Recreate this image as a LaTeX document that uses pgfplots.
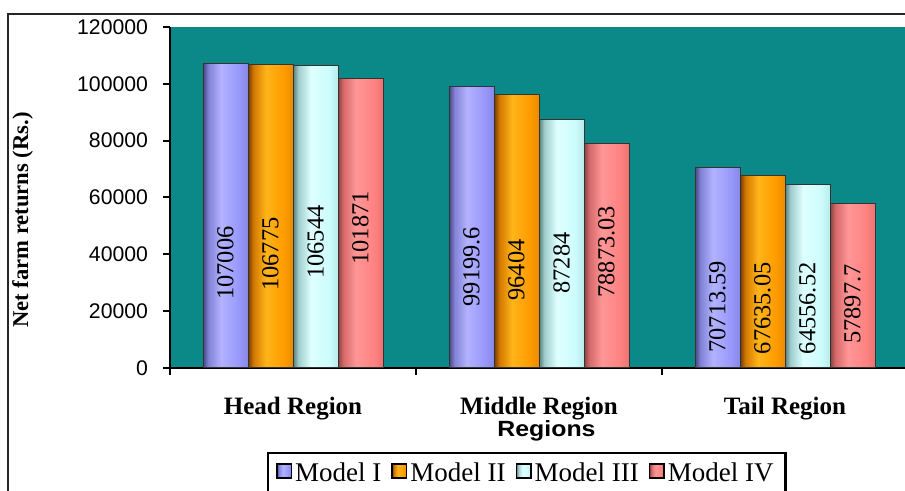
\documentclass[border=0pt]{standalone}
\usepackage{pgfplots}
\pgfplotsset{compat=1.18}
\usepackage{fontspec}
\setmainfont{Liberation Serif}
\newfontfamily\arialf{Liberation Sans}

\definecolor{bg}{RGB}{11,137,137}
\definecolor{cA}{RGB}{153,153,255}
\definecolor{cB}{RGB}{255,153,0}
\definecolor{cC}{RGB}{204,255,255}
\definecolor{cD}{RGB}{255,128,128}

\definecolor{a0}{RGB}{70,70,130}\definecolor{a1}{RGB}{130,130,215}\definecolor{a2}{RGB}{178,178,255}\definecolor{a3}{RGB}{152,152,252}\definecolor{a4}{RGB}{135,135,230}
\definecolor{b0}{RGB}{115,60,0}\definecolor{b1}{RGB}{210,120,0}\definecolor{b2}{RGB}{255,180,25}\definecolor{b3}{RGB}{255,155,0}\definecolor{b4}{RGB}{235,140,0}
\definecolor{c0}{RGB}{85,125,125}\definecolor{c1}{RGB}{160,205,205}\definecolor{c2}{RGB}{222,255,255}\definecolor{c3}{RGB}{205,252,252}\definecolor{c4}{RGB}{185,235,235}
\definecolor{d0}{RGB}{135,65,65}\definecolor{d1}{RGB}{215,105,105}\definecolor{d2}{RGB}{255,150,150}\definecolor{d3}{RGB}{255,130,130}\definecolor{d4}{RGB}{235,115,115}

\pgfdeclarehorizontalshading{shA}{100bp}{color(0bp)=(a0); color(25bp)=(a0); color(31bp)=(a1); color(45bp)=(a2); color(65bp)=(a3); color(75bp)=(a4); color(100bp)=(a4)}
\pgfdeclarehorizontalshading{shB}{100bp}{color(0bp)=(b0); color(25bp)=(b0); color(31bp)=(b1); color(45bp)=(b2); color(65bp)=(b3); color(75bp)=(b4); color(100bp)=(b4)}
\pgfdeclarehorizontalshading{shC}{100bp}{color(0bp)=(c0); color(25bp)=(c0); color(31bp)=(c1); color(45bp)=(c2); color(65bp)=(c3); color(75bp)=(c4); color(100bp)=(c4)}
\pgfdeclarehorizontalshading{shD}{100bp}{color(0bp)=(d0); color(25bp)=(d0); color(31bp)=(d1); color(45bp)=(d2); color(65bp)=(d3); color(75bp)=(d4); color(100bp)=(d4)}

\pgfplotsset{
  bA/.style={ybar, bar width=22.5pt, bar shift=-33.75pt, draw=black!80, line width=0.5pt, shading=shA,
    legend image code/.code={\draw[fill=cA,draw=black,line width=0.8pt] (0pt,-2.1pt) rectangle (7.2pt,5.1pt);}},
  bB/.style={ybar, bar width=22.5pt, bar shift=-11.25pt, draw=black!80, line width=0.5pt, shading=shB,
    legend image code/.code={\draw[fill=cB,draw=black,line width=0.8pt] (0pt,-2.1pt) rectangle (7.2pt,5.1pt);}},
  bC/.style={ybar, bar width=22.5pt, bar shift=11.25pt, draw=black!80, line width=0.5pt, shading=shC,
    legend image code/.code={\draw[fill=cC,draw=black,line width=0.8pt] (0pt,-2.1pt) rectangle (7.2pt,5.1pt);}},
  bD/.style={ybar, bar width=22.5pt, bar shift=33.75pt, draw=black!80, line width=0.5pt, shading=shD,
    legend image code/.code={\draw[fill=cD,draw=black,line width=0.8pt] (0pt,-2.1pt) rectangle (7.2pt,5.1pt);}},
}

\begin{document}
\begin{tikzpicture}
\useasboundingbox (0,0) rectangle (452.5pt,-245.5pt);
\draw[line width=0.8pt, black!85] (4pt,-7pt) rectangle (600pt,-400pt);
\begin{axis}[
  at={(85pt,-184pt)}, anchor=south west,
  width=369pt, height=170.5pt, scale only axis,
  xmin=-0.5, xmax=2.5, ymin=0, ymax=120000,
  axis background/.style={fill=bg},
  axis x line*=bottom, axis y line*=left,
  axis line style={line width=1pt, black, -},
  ytick={0,20000,40000,60000,80000,100000,120000},
  scaled y ticks=false,
  /pgf/number format/assume math mode=true,
  yticklabel style={/pgf/number format/fixed, /pgf/number format/1000 sep={}, font=\arialf\fontsize{10.6}{12}\selectfont, xshift=-4pt},
  xtick={-0.5,0.5,1.5,2.5},
  xticklabels={Head Region,Middle Region,Tail Region},
  x tick label as interval,
  xticklabel style={font=\bfseries\fontsize{12.5}{14}\selectfont, anchor=base, yshift=-20pt},
  tick align=outside, major tick length=3.5pt,
  tick style={black, line width=1pt},
  legend style={at={(0.1314,-0.2463)}, anchor=north west, legend columns=4,
    draw=black, line width=1.2pt, font=\fontsize{13.5}{15}\selectfont,
    inner xsep=4pt, inner ysep=3pt,
    /tikz/every odd column/.append style={column sep=-0.5pt},
    /tikz/every even column/.append style={column sep=3pt}},
  clip=false,
]
% legend-bearing bars (Head Region)
\addplot[bA] coordinates {(0,107006)};
\addplot[bB] coordinates {(0,106775)};
\addplot[bC] coordinates {(0,106544)};
\addplot[bD] coordinates {(0,101871)};
\legend{Model I,Model II,Model III,Model IV}
% Middle Region
\addplot[bA, forget plot] coordinates {(1,99199.6)};
\addplot[bB, forget plot] coordinates {(1,96404)};
\addplot[bC, forget plot] coordinates {(1,87284)};
\addplot[bD, forget plot] coordinates {(1,78873.03)};
% Tail Region
\addplot[bA, forget plot] coordinates {(2,70713.59)};
\addplot[bB, forget plot] coordinates {(2,67635.05)};
\addplot[bC, forget plot] coordinates {(2,64556.52)};
\addplot[bD, forget plot] coordinates {(2,57897.7)};

\begin{scope}[every node/.style={rotate=90, font=\fontsize{12.2}{14}\selectfont, inner sep=0pt}]
\node at (axis cs:-0.2744,36950) {107006};
\node at (axis cs:-0.0915,40117) {106775};
\node at (axis cs:0.0915,44340) {106544};
\node at (axis cs:0.2744,49267) {101871};
\node at (axis cs:0.7256,35660) {99199.6};
\node at (axis cs:0.9085,34487) {96404};
\node at (axis cs:1.0915,36950) {87284};
\node at (axis cs:1.2744,40927) {78873.03};
\node at (axis cs:1.7256,21572) {70713.59};
\node at (axis cs:1.9085,21000) {67635.05};
\node at (axis cs:2.0915,21000) {64556.52};
\node at (axis cs:2.2744,22522) {57897.7};
\end{scope}
\end{axis}
\node[rotate=90, font=\bfseries\fontsize{11.3}{13}\selectfont] at (11.25pt,-110pt) {Net farm returns (Rs.)};
\node[anchor=base, xscale=1.13, inner sep=0pt, font=\arialf\bfseries\fontsize{11}{12}\selectfont] at (273.25pt,-218.5pt) {Regions};
\end{tikzpicture}
\end{document}
